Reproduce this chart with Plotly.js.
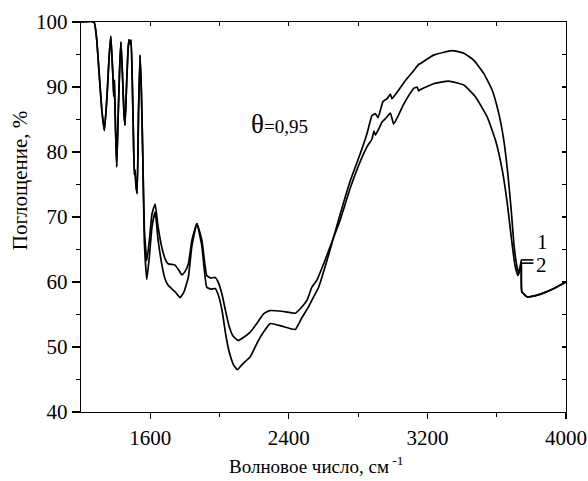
<!DOCTYPE html>
<html>
<head>
<meta charset="utf-8">
<script src="https://cdn.plot.ly/plotly-3.0.1.min.js"></script>
<style>html,body{margin:0;padding:0;background:#fff;}#chart{width:588px;height:481px;}</style>
</head>
<body>
<div id="chart"></div>
<script>
// Shared low-wavenumber part (curves coincide)
var sharedX = [1200,1275,1290,1305,1320,1335,1350,1362,1372,1380,1386,1389,1392,1399,1406,1415,1424,1431,1440,1448,1454,1462,1471,1477,1483,1489,1496,1503,1508,1512,1517,1524,1532,1541,1549,1557];
var sharedY = [100,100,97.5,92,86.5,83.3,88.5,94.5,97.8,94,90.8,88.6,91,84,77.7,86,93.5,96.9,91.5,86,84.1,89.5,95.5,97.3,96.6,97.2,91,82,76.5,77.2,75,73.6,86,94.9,89,79];

// Curve 1 (upper at high wavenumber)
var x1 = [1566,1580,1595,1610,1628,1645,1666,1685,1703,1743,1772,1795,1820,1840,1869,1898,1926,1950,1975,1995,2015,2035,2055,2080,2103,2130,2177,2220,2254,2292,2360,2437,2475,2514,2543,2572,2620,2649,2697,2755,2813,2851,2880,2899,2915,2944,2967,2986,2995,3025,3073,3120,3150,3159,3236,3343,3410,3468,3525,3574,3612,3641,3664,3684,3699,3714,3728,3737,3742,3745,3776,3824,3880,3930,4000];
var y1 = [66,60.4,64,68.5,70.8,66.5,62.8,60.5,59.5,58.5,57.6,58.5,60.8,65.5,69,65.5,59.2,58.9,59,57.8,55.5,52,49.3,47.3,46.5,47.3,48.5,50.8,52.3,53.6,53.2,52.7,54.5,56.2,57.7,59.2,63.3,66,70.5,75.6,79.8,82.8,85.6,85.9,85.3,87.8,88.2,88.9,88.2,89.2,91,92.5,93.5,93.6,94.9,95.6,95.2,94.1,92.1,89.5,85.9,81.8,76.7,71,65.9,62.8,61.3,62.6,63.4,58.5,57.7,57.9,58.4,59,60];

// Curve 2 (lower at high wavenumber)
var x2 = [1566,1580,1595,1610,1628,1645,1666,1685,1703,1743,1765,1782,1800,1820,1840,1869,1898,1926,1950,1975,1995,2015,2035,2055,2080,2109,2140,2177,2220,2254,2288,2360,2437,2470,2505,2533,2562,2601,2649,2697,2755,2813,2851,2880,2891,2900,2920,2938,2960,2986,3005,3030,3060,3090,3121,3140,3150,3159,3236,3323,3410,3477,3545,3593,3632,3661,3684,3704,3722,3735,3742,3745,3776,3824,3880,3930,4000];
var y2 = [68,63.3,66.5,70.5,72,68.5,65.4,63.6,62.8,62.6,61.8,61.1,61.6,62.8,66.4,69,66.4,61,60.6,60.7,59.8,58,55.5,53.2,51.6,51,51.5,52.3,53.8,55.1,55.6,55.5,55.2,56,57.2,59.2,60.3,62.8,66.2,69.6,74.5,78.6,80.8,82,83.2,82.6,83.6,84.6,85.2,86,84.3,85.5,87.2,88.6,89.8,90,89.4,89.6,90.5,90.9,90.3,88.5,85.4,81.8,77.2,72.1,66.9,62.8,61,62,62.9,58.5,57.7,57.9,58.4,59,60];

var xTicks = [1600,2400,3200,4000];
var xMinor = [2000,2800,3600];
var fontFam = "'Liberation Serif','Times New Roman',serif";

var lineStyle = {color:'#000', width:1.7, shape:'spline', smoothing:0.4};
var traces = [
  {x: sharedX.concat(x1), y: sharedY.concat(y1), mode:'lines', line: lineStyle, name:'1', hoverinfo:'skip'},
  {x: sharedX.concat(x2), y: sharedY.concat(y2), mode:'lines', line: lineStyle, name:'2', hoverinfo:'skip'},
  {x: [1200], y: [40], xaxis:'x2', yaxis:'y2', mode:'lines', showlegend:false, hoverinfo:'skip', line:{width:0}}
];

var layout = {
  width:588, height:481,
  margin:{l:81, r:22, t:22, b:69},
  paper_bgcolor:'#fff', plot_bgcolor:'#fff',
  showlegend:false,
  font:{family:fontFam, color:'#000', size:21},
  xaxis:{range:[1200,4000], tickvals:xTicks, ticks:'outside', ticklen:6, tickwidth:1.2, tickcolor:'#000',
         showline:true, linecolor:'#000', linewidth:1.3, mirror:true, showgrid:false, zeroline:false,
         tickfont:{family:fontFam, size:21, color:'#000'},
         minor:{tickvals:xMinor, ticks:'outside', ticklen:4, tickwidth:1.2, tickcolor:'#000', showgrid:false}},
  yaxis:{range:[40,100], dtick:10, tick0:40, ticks:'outside', ticklen:8, tickwidth:1.2, tickcolor:'#000',
         showline:true, linecolor:'#000', linewidth:1.3, mirror:true, showgrid:false, zeroline:false,
         tickfont:{family:fontFam, size:21, color:'#000'},
         minor:{dtick:5, ticks:'outside', ticklen:4, tickwidth:1.2, tickcolor:'#000', showgrid:false}},
  xaxis2:{overlaying:'x', side:'top', range:[1200,4000], dtick:400, tick0:1200, ticks:'inside', ticklen:4, tickwidth:1.2,
          tickcolor:'#000', showticklabels:false, showgrid:false, zeroline:false, showline:false},
  yaxis2:{overlaying:'y', side:'right', range:[40,100], dtick:5, tick0:40, ticks:'inside', ticklen:4, tickwidth:1.2,
          tickcolor:'#000', showticklabels:false, showgrid:false, zeroline:false, showline:false},
  shapes:[
    {type:'line', xref:'x', yref:'y', x0:3742, x1:3812, y0:63.4, y1:63.4, line:{color:'#000', width:1.6}},
    {type:'line', xref:'x', yref:'y', x0:3742, x1:3812, y0:62.9, y1:62.9, line:{color:'#000', width:1.6}}
  ],
  annotations:[
    {xref:'paper', yref:'paper', x:-0.126, y:0.594, text:'Поглощение, %', textangle:-90, showarrow:false,
     xanchor:'center', yanchor:'middle', font:{family:fontFam, size:21, color:'#000'}},
    {xref:'paper', yref:'paper', x:0.485, y:-0.135, text:'Волновое число, см<sup> -1</sup>', showarrow:false,
     xanchor:'center', yanchor:'middle', font:{family:fontFam, size:19, color:'#000'}},
    {xref:'x', yref:'y', x:2344, y:84.3, text:'<span style="font-size:27px">θ</span>=0,95', showarrow:false,
     xanchor:'center', yanchor:'middle', font:{family:fontFam, size:19, color:'#000'}},
    {xref:'x', yref:'y', x:3863, y:66.2, text:'1', showarrow:false, xanchor:'center', yanchor:'middle',
     font:{family:fontFam, size:21, color:'#000'}},
    {xref:'x', yref:'y', x:3860, y:62.6, text:'2', showarrow:false, xanchor:'center', yanchor:'middle',
     font:{family:fontFam, size:21, color:'#000'}}
  ]
};

Plotly.newPlot('chart', traces, layout, {displayModeBar:false, staticPlot:true});
</script>
</body>
</html>
